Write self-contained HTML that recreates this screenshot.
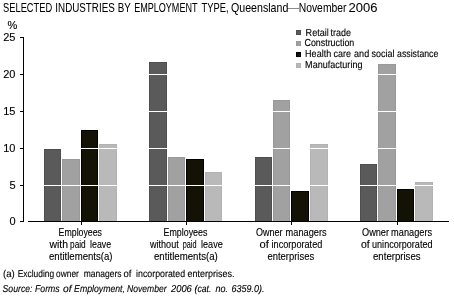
<!DOCTYPE html>
<html><head><meta charset="utf-8"><style>
html,body{margin:0;padding:0;background:#fff;width:454px;height:302px;overflow:hidden}
svg{display:block;will-change:transform}
</style></head><body>
<svg width="454" height="302" viewBox="0 0 454 302" shape-rendering="crispEdges">
<rect width="454" height="302" fill="#fff"/>
<rect x="287" y="8" width="12" height="1" fill="#8a8a8a"/>
<text x="7.5" y="29.3" font-family="Liberation Sans, sans-serif" font-size="11" stroke="#000" stroke-width="0.12">%</text>
<text x="15.5" y="41.3" font-family="Liberation Sans, sans-serif" font-size="11" text-anchor="end" stroke="#000" stroke-width="0.12">25</text>
<rect x="20" y="37" width="3" height="1" fill="#000"/>
<text x="15.5" y="78.3" font-family="Liberation Sans, sans-serif" font-size="11" text-anchor="end" stroke="#000" stroke-width="0.12">20</text>
<rect x="20" y="74" width="3" height="1" fill="#000"/>
<text x="15.5" y="115.3" font-family="Liberation Sans, sans-serif" font-size="11" text-anchor="end" stroke="#000" stroke-width="0.12">15</text>
<rect x="20" y="111" width="3" height="1" fill="#000"/>
<text x="15.5" y="152.3" font-family="Liberation Sans, sans-serif" font-size="11" text-anchor="end" stroke="#000" stroke-width="0.12">10</text>
<rect x="20" y="148" width="3" height="1" fill="#000"/>
<text x="15.5" y="189.3" font-family="Liberation Sans, sans-serif" font-size="11" text-anchor="end" stroke="#000" stroke-width="0.12">5</text>
<rect x="20" y="185" width="3" height="1" fill="#000"/>
<text x="15.5" y="225.3" font-family="Liberation Sans, sans-serif" font-size="11" text-anchor="end" stroke="#000" stroke-width="0.12">0</text>
<rect x="20" y="221" width="3" height="1" fill="#000"/>
<rect x="23" y="37" width="1" height="185" fill="#000"/>
<rect x="44" y="149" width="17" height="72" fill="#4e4e4e"/>
<rect x="45" y="150" width="15" height="71" fill="#5a5a5a"/>
<rect x="62" y="159" width="18" height="62" fill="#999999"/>
<rect x="63" y="160" width="16" height="61" fill="#a1a1a1"/>
<rect x="81" y="130" width="17" height="91" fill="#000000"/>
<rect x="82" y="131" width="15" height="90" fill="#131204"/>
<rect x="99" y="144" width="18" height="77" fill="#b2b2b2"/>
<rect x="100" y="145" width="16" height="76" fill="#b9b9b9"/>
<rect x="149" y="62" width="18" height="159" fill="#4e4e4e"/>
<rect x="150" y="63" width="16" height="158" fill="#5a5a5a"/>
<rect x="168" y="157" width="17" height="64" fill="#999999"/>
<rect x="169" y="158" width="15" height="63" fill="#a1a1a1"/>
<rect x="186" y="159" width="18" height="62" fill="#000000"/>
<rect x="187" y="160" width="16" height="61" fill="#131204"/>
<rect x="205" y="172" width="17" height="49" fill="#b2b2b2"/>
<rect x="206" y="173" width="15" height="48" fill="#b9b9b9"/>
<rect x="255" y="157" width="17" height="64" fill="#4e4e4e"/>
<rect x="256" y="158" width="15" height="63" fill="#5a5a5a"/>
<rect x="273" y="100" width="17" height="121" fill="#999999"/>
<rect x="274" y="101" width="15" height="120" fill="#a1a1a1"/>
<rect x="291" y="191" width="18" height="30" fill="#000000"/>
<rect x="292" y="192" width="16" height="29" fill="#131204"/>
<rect x="310" y="144" width="18" height="77" fill="#b2b2b2"/>
<rect x="311" y="145" width="16" height="76" fill="#b9b9b9"/>
<rect x="360" y="164" width="17" height="57" fill="#4e4e4e"/>
<rect x="361" y="165" width="15" height="56" fill="#5a5a5a"/>
<rect x="378" y="64" width="18" height="157" fill="#999999"/>
<rect x="379" y="65" width="16" height="156" fill="#a1a1a1"/>
<rect x="397" y="189" width="17" height="32" fill="#000000"/>
<rect x="398" y="190" width="15" height="31" fill="#131204"/>
<rect x="415" y="182" width="18" height="39" fill="#b2b2b2"/>
<rect x="416" y="183" width="16" height="38" fill="#b9b9b9"/>
<rect x="28" y="74" width="421" height="1" fill="#fff"/>
<rect x="28" y="111" width="421" height="1" fill="#fff"/>
<rect x="28" y="148" width="421" height="1" fill="#fff"/>
<rect x="28" y="185" width="421" height="1" fill="#fff"/>
<rect x="28" y="221" width="421" height="1" fill="#000"/>
<rect x="81" y="222" width="1" height="3" fill="#000"/>
<rect x="186" y="222" width="1" height="3" fill="#000"/>
<rect x="291" y="222" width="1" height="3" fill="#000"/>
<rect x="397" y="222" width="1" height="3" fill="#000"/>
<rect x="296" y="30" width="5" height="5" fill="#4e4e4e"/>
<rect x="297" y="31" width="3" height="3" fill="#5a5a5a"/>
<rect x="296" y="41" width="5" height="5" fill="#999999"/>
<rect x="297" y="42" width="3" height="3" fill="#a1a1a1"/>
<rect x="296" y="52" width="5" height="5" fill="#000000"/>
<rect x="297" y="53" width="3" height="3" fill="#131204"/>
<rect x="296" y="63" width="5" height="5" fill="#b2b2b2"/>
<rect x="297" y="64" width="3" height="3" fill="#b9b9b9"/>
<text id="t0" x="3.100" y="11.7" font-family="Liberation Sans, sans-serif" font-size="12.4" textLength="49.066" lengthAdjust="spacingAndGlyphs" stroke="#000" stroke-width="0.04">SELECTED</text>
<text id="t1" x="55.335" y="11.7" font-family="Liberation Sans, sans-serif" font-size="12.4" textLength="59.418" lengthAdjust="spacingAndGlyphs" stroke="#000" stroke-width="0.04">INDUSTRIES</text>
<text id="t2" x="117.638" y="11.7" font-family="Liberation Sans, sans-serif" font-size="12.4" textLength="13.096" lengthAdjust="spacingAndGlyphs" stroke="#000" stroke-width="0.04">BY</text>
<text id="t3" x="134.163" y="11.7" font-family="Liberation Sans, sans-serif" font-size="12.4" textLength="63.347" lengthAdjust="spacingAndGlyphs" stroke="#000" stroke-width="0.04">EMPLOYMENT</text>
<text id="t4" x="201.619" y="11.7" font-family="Liberation Sans, sans-serif" font-size="12.4" textLength="26.981" lengthAdjust="spacingAndGlyphs" stroke="#000" stroke-width="0.04">TYPE,</text>
<text id="t5" x="231.032" y="11.7" font-family="Liberation Sans, sans-serif" font-size="12.4" textLength="57.295" lengthAdjust="spacingAndGlyphs" stroke="#000" stroke-width="0.04">Queensland</text>
<text id="t7" x="298.716" y="11.7" font-family="Liberation Sans, sans-serif" font-size="12.4" textLength="47.764" lengthAdjust="spacingAndGlyphs" stroke="#000" stroke-width="0.04">November</text>
<text id="t8" x="348.498" y="11.7" font-family="Liberation Sans, sans-serif" font-size="12.4" textLength="28.980" lengthAdjust="spacingAndGlyphs" stroke="#000" stroke-width="0.04">2006</text>
<text id="l0" x="305.587" y="35.9" font-family="Liberation Sans, sans-serif" font-size="10.2" textLength="23.285" lengthAdjust="spacingAndGlyphs" transform="translate(305.587 35.9) skewX(0.1) translate(-305.587 -35.9)" stroke="#000" stroke-width="0.12">Retail</text>
<text id="l1" x="330.543" y="35.9" font-family="Liberation Sans, sans-serif" font-size="10.2" textLength="20.528" lengthAdjust="spacingAndGlyphs" transform="translate(330.543 35.9) skewX(0.1) translate(-330.543 -35.9)" stroke="#000" stroke-width="0.12">trade</text>
<text id="l2" x="304.486" y="46.4" font-family="Liberation Sans, sans-serif" font-size="10.2" textLength="49.774" lengthAdjust="spacingAndGlyphs" transform="translate(304.486 46.4) skewX(0.1) translate(-304.486 -46.4)" stroke="#000" stroke-width="0.12">Construction</text>
<text id="l3" x="305.094" y="57.1" font-family="Liberation Sans, sans-serif" font-size="10.2" textLength="26.082" lengthAdjust="spacingAndGlyphs" transform="translate(305.094 57.1) skewX(0.1) translate(-305.094 -57.1)" stroke="#000" stroke-width="0.12">Health</text>
<text id="l4" x="333.512" y="57.1" font-family="Liberation Sans, sans-serif" font-size="10.2" textLength="17.528" lengthAdjust="spacingAndGlyphs" transform="translate(333.512 57.1) skewX(0.1) translate(-333.512 -57.1)" stroke="#000" stroke-width="0.12">care</text>
<text id="l5" x="354.085" y="57.1" font-family="Liberation Sans, sans-serif" font-size="10.2" textLength="15.094" lengthAdjust="spacingAndGlyphs" transform="translate(354.085 57.1) skewX(0.1) translate(-354.085 -57.1)" stroke="#000" stroke-width="0.12">and</text>
<text id="l6" x="371.590" y="57.1" font-family="Liberation Sans, sans-serif" font-size="10.2" textLength="22.942" lengthAdjust="spacingAndGlyphs" transform="translate(371.590 57.1) skewX(0.1) translate(-371.590 -57.1)" stroke="#000" stroke-width="0.12">social</text>
<text id="l7" x="397.114" y="57.1" font-family="Liberation Sans, sans-serif" font-size="10.2" textLength="41.178" lengthAdjust="spacingAndGlyphs" transform="translate(397.114 57.1) skewX(0.1) translate(-397.114 -57.1)" stroke="#000" stroke-width="0.12">assistance</text>
<text id="l8" x="305.095" y="67.8" font-family="Liberation Sans, sans-serif" font-size="10.2" textLength="57.376" lengthAdjust="spacingAndGlyphs" transform="translate(305.095 67.8) skewX(0.1) translate(-305.095 -67.8)" stroke="#000" stroke-width="0.12">Manufacturing</text>
<text id="x0" x="58.596" y="236" font-family="Liberation Sans, sans-serif" font-size="10.2" textLength="43.414" lengthAdjust="spacingAndGlyphs" stroke="#000" stroke-width="0.12">Employees</text>
<text id="x1" x="49.489" y="248" font-family="Liberation Sans, sans-serif" font-size="10.2" textLength="18.565" lengthAdjust="spacingAndGlyphs" stroke="#000" stroke-width="0.12">with</text>
<text id="x2" x="70.052" y="248" font-family="Liberation Sans, sans-serif" font-size="10.2" textLength="15.597" lengthAdjust="spacingAndGlyphs" stroke="#000" stroke-width="0.12">paid</text>
<text id="x3" x="90.063" y="248" font-family="Liberation Sans, sans-serif" font-size="10.2" textLength="21.053" lengthAdjust="spacingAndGlyphs" stroke="#000" stroke-width="0.12">leave</text>
<text id="x4" x="49.045" y="260" font-family="Liberation Sans, sans-serif" font-size="10.2" textLength="63.513" lengthAdjust="spacingAndGlyphs" stroke="#000" stroke-width="0.12">entitlements(a)</text>
<text id="x5" x="163.587" y="236" font-family="Liberation Sans, sans-serif" font-size="10.2" textLength="43.831" lengthAdjust="spacingAndGlyphs" stroke="#000" stroke-width="0.12">Employees</text>
<text id="x6" x="149.953" y="248" font-family="Liberation Sans, sans-serif" font-size="10.2" textLength="28.766" lengthAdjust="spacingAndGlyphs" stroke="#000" stroke-width="0.12">without</text>
<text id="x7" x="182.793" y="248" font-family="Liberation Sans, sans-serif" font-size="10.2" textLength="13.728" lengthAdjust="spacingAndGlyphs" stroke="#000" stroke-width="0.12">paid</text>
<text id="x8" x="201.050" y="248" font-family="Liberation Sans, sans-serif" font-size="10.2" textLength="21.647" lengthAdjust="spacingAndGlyphs" stroke="#000" stroke-width="0.12">leave</text>
<text id="x9" x="154.015" y="260" font-family="Liberation Sans, sans-serif" font-size="10.2" textLength="63.762" lengthAdjust="spacingAndGlyphs" stroke="#000" stroke-width="0.12">entitlements(a)</text>
<text id="x10" x="256.072" y="236" font-family="Liberation Sans, sans-serif" font-size="10.2" textLength="26.525" lengthAdjust="spacingAndGlyphs" stroke="#000" stroke-width="0.12">Owner</text>
<text id="x11" x="285.588" y="236" font-family="Liberation Sans, sans-serif" font-size="10.2" textLength="40.984" lengthAdjust="spacingAndGlyphs" stroke="#000" stroke-width="0.12">managers</text>
<text id="x12" x="259.485" y="248" font-family="Liberation Sans, sans-serif" font-size="10.2" textLength="9.375" lengthAdjust="spacingAndGlyphs" stroke="#000" stroke-width="0.12">of</text>
<text id="x13" x="271.531" y="248" font-family="Liberation Sans, sans-serif" font-size="10.2" textLength="50.775" lengthAdjust="spacingAndGlyphs" stroke="#000" stroke-width="0.12">incorporated</text>
<text id="x14" x="267.537" y="260" font-family="Liberation Sans, sans-serif" font-size="10.2" textLength="46.576" lengthAdjust="spacingAndGlyphs" stroke="#000" stroke-width="0.12">enterprises</text>
<text id="x15" x="362.000" y="236" font-family="Liberation Sans, sans-serif" font-size="10.2" textLength="27.014" lengthAdjust="spacingAndGlyphs" stroke="#000" stroke-width="0.12">Owner</text>
<text id="x16" x="391.098" y="236" font-family="Liberation Sans, sans-serif" font-size="10.2" textLength="40.984" lengthAdjust="spacingAndGlyphs" stroke="#000" stroke-width="0.12">managers</text>
<text id="x17" x="360.920" y="248" font-family="Liberation Sans, sans-serif" font-size="10.2" textLength="8.750" lengthAdjust="spacingAndGlyphs" stroke="#000" stroke-width="0.12">of</text>
<text id="x18" x="372.042" y="248" font-family="Liberation Sans, sans-serif" font-size="10.2" textLength="60.466" lengthAdjust="spacingAndGlyphs" stroke="#000" stroke-width="0.12">unincorporated</text>
<text id="x19" x="373.030" y="260" font-family="Liberation Sans, sans-serif" font-size="10.2" textLength="47.576" lengthAdjust="spacingAndGlyphs" stroke="#000" stroke-width="0.12">enterprises</text>
<text id="f0" x="3.022" y="277" font-family="Liberation Sans, sans-serif" font-size="10" textLength="11.767" lengthAdjust="spacingAndGlyphs" transform="translate(3.022 277) skewX(0.1) translate(-3.022 -277)" stroke="#000" stroke-width="0.12">(a)</text>
<text id="f1" x="17.655" y="277" font-family="Liberation Sans, sans-serif" font-size="10" textLength="36.568" lengthAdjust="spacingAndGlyphs" transform="translate(17.655 277) skewX(0.1) translate(-17.655 -277)" stroke="#000" stroke-width="0.12">Excluding</text>
<text id="f2" x="56.111" y="277" font-family="Liberation Sans, sans-serif" font-size="10" textLength="22.677" lengthAdjust="spacingAndGlyphs" transform="translate(56.111 277) skewX(0.1) translate(-56.111 -277)" stroke="#000" stroke-width="0.12">owner</text>
<text id="f3" x="83.656" y="277" font-family="Liberation Sans, sans-serif" font-size="10" textLength="37.860" lengthAdjust="spacingAndGlyphs" transform="translate(83.656 277) skewX(0.1) translate(-83.656 -277)" stroke="#000" stroke-width="0.12">managers</text>
<text id="f4" x="123.508" y="277" font-family="Liberation Sans, sans-serif" font-size="10" textLength="7.918" lengthAdjust="spacingAndGlyphs" transform="translate(123.508 277) skewX(0.1) translate(-123.508 -277)" stroke="#000" stroke-width="0.12">of</text>
<text id="f5" x="136.090" y="277" font-family="Liberation Sans, sans-serif" font-size="10" textLength="49.014" lengthAdjust="spacingAndGlyphs" transform="translate(136.090 277) skewX(0.1) translate(-136.090 -277)" stroke="#000" stroke-width="0.12">incorporated</text>
<text id="f6" x="187.490" y="277" font-family="Liberation Sans, sans-serif" font-size="10" textLength="46.920" lengthAdjust="spacingAndGlyphs" transform="translate(187.490 277) skewX(0.1) translate(-187.490 -277)" stroke="#000" stroke-width="0.12">enterprises.</text>
<text id="s0" x="2.598" y="292" font-family="Liberation Sans, sans-serif" font-size="10" font-style="italic" textLength="29.864" lengthAdjust="spacingAndGlyphs" transform="translate(2.598 292) skewX(0.1) translate(-2.598 -292)" stroke="#000" stroke-width="0.12">Source:</text>
<text id="s1" x="35.076" y="292" font-family="Liberation Sans, sans-serif" font-size="10" font-style="italic" textLength="24.575" lengthAdjust="spacingAndGlyphs" transform="translate(35.076 292) skewX(0.1) translate(-35.076 -292)" stroke="#000" stroke-width="0.12">Forms</text>
<text id="s2" x="62.970" y="292" font-family="Liberation Sans, sans-serif" font-size="10" font-style="italic" textLength="8.557" lengthAdjust="spacingAndGlyphs" transform="translate(62.970 292) skewX(0.1) translate(-62.970 -292)" stroke="#000" stroke-width="0.12">of</text>
<text id="s3" x="74.090" y="292" font-family="Liberation Sans, sans-serif" font-size="10" font-style="italic" textLength="50.894" lengthAdjust="spacingAndGlyphs" transform="translate(74.090 292) skewX(0.1) translate(-74.090 -292)" stroke="#000" stroke-width="0.12">Employment,</text>
<text id="s4" x="127.096" y="292" font-family="Liberation Sans, sans-serif" font-size="10" font-style="italic" textLength="39.404" lengthAdjust="spacingAndGlyphs" transform="translate(127.096 292) skewX(0.1) translate(-127.096 -292)" stroke="#000" stroke-width="0.12">November</text>
<text id="s5" x="171.000" y="292" font-family="Liberation Sans, sans-serif" font-size="10" font-style="italic" textLength="20.832" lengthAdjust="spacingAndGlyphs" transform="translate(171.000 292) skewX(0.1) translate(-171.000 -292)" stroke="#000" stroke-width="0.12">2006</text>
<text id="s6" x="194.535" y="292" font-family="Liberation Sans, sans-serif" font-size="10" font-style="italic" textLength="16.884" lengthAdjust="spacingAndGlyphs" transform="translate(194.535 292) skewX(0.1) translate(-194.535 -292)" stroke="#000" stroke-width="0.12">(cat.</text>
<text id="s7" x="215.518" y="292" font-family="Liberation Sans, sans-serif" font-size="10" font-style="italic" textLength="12.546" lengthAdjust="spacingAndGlyphs" transform="translate(215.518 292) skewX(0.1) translate(-215.518 -292)" stroke="#000" stroke-width="0.12">no.</text>
<text id="s8" x="231.511" y="292" font-family="Liberation Sans, sans-serif" font-size="10" font-style="italic" textLength="32.913" lengthAdjust="spacingAndGlyphs" transform="translate(231.511 292) skewX(0.1) translate(-231.511 -292)" stroke="#000" stroke-width="0.12">6359.0).</text>
</svg>
</body></html>
